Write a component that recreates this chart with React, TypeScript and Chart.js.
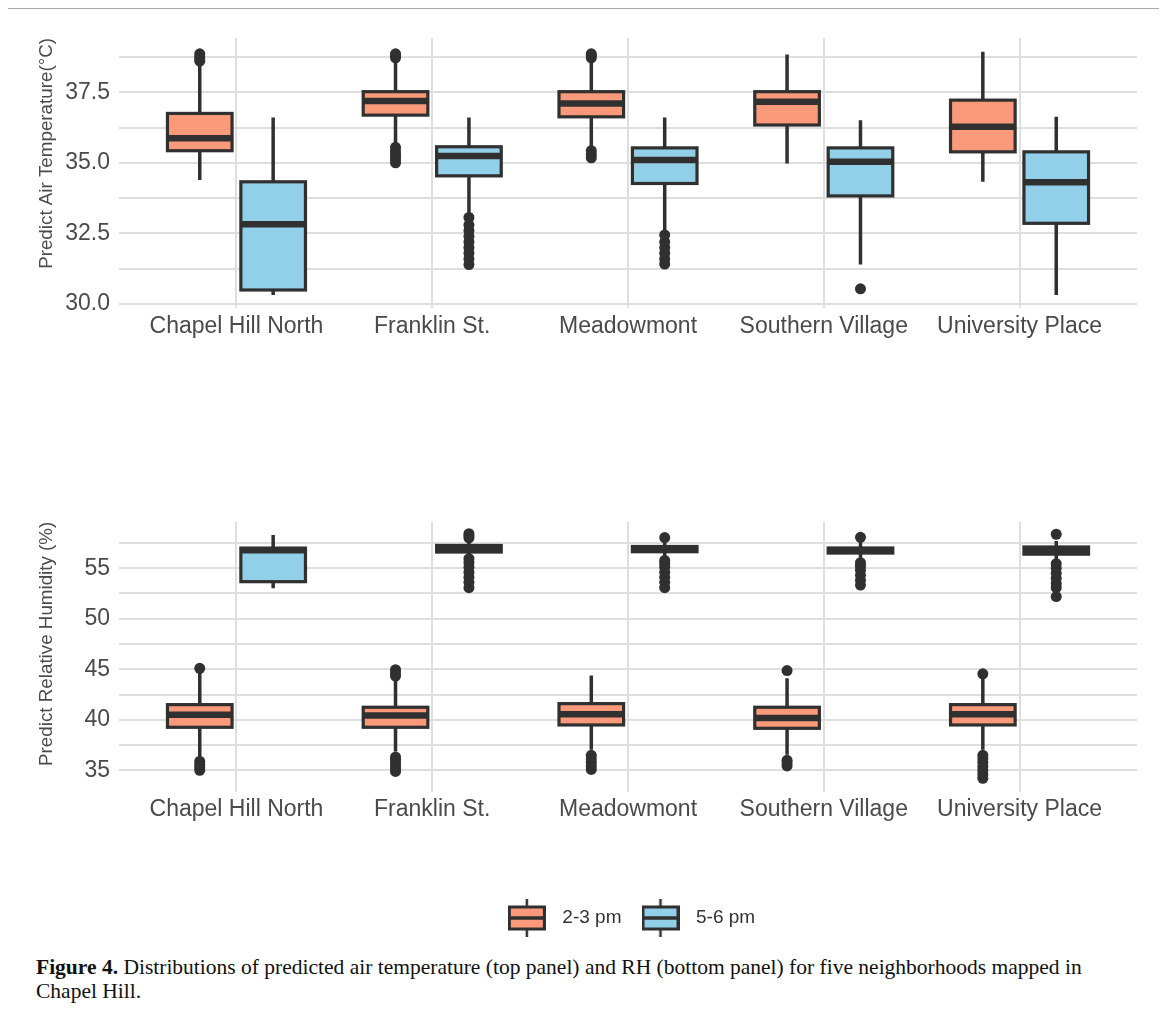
import React, { useEffect, useRef } from 'react';
import { Chart, registerables } from 'chart.js';

Chart.register(...registerables);

// ---------------- data ----------------
const categories = ['Chapel Hill North', 'Franklin St.', 'Meadowmont', 'Southern Village', 'University Place'];
const seriesNames = ['2-3 pm', '5-6 pm'];

// Top panel: predicted air temperature (°C)
const tempTicks = [30, 31.25, 32.5, 33.75, 35, 36.25, 37.5, 38.75];
const temp23Low = [34.39, 35.65, 35.58, 34.98, 34.33];
const temp23Q1 = [35.43, 36.69, 36.63, 36.34, 35.39];
const temp23Med = [35.87, 37.19, 37.1, 37.16, 36.28];
const temp23Q3 = [36.75, 37.52, 37.52, 37.52, 37.22];
const temp23High = [38.45, 38.55, 38.55, 38.84, 38.93];
const temp23Out = [
  [38.6, 38.68, 38.76, 38.86],
  [38.72, 38.8, 38.86, 35.0, 35.1, 35.2, 35.3, 35.42, 35.55],
  [38.72, 38.8, 38.86, 35.18, 35.3, 35.43],
  [],
  [],
];
const temp56Low = [30.32, 33.2, 32.6, 31.4, 30.32];
const temp56Q1 = [30.5, 34.54, 34.27, 33.83, 32.86];
const temp56Med = [32.83, 35.24, 35.1, 35.04, 34.31];
const temp56Q3 = [34.33, 35.57, 35.53, 35.53, 35.39];
const temp56High = [36.61, 36.61, 36.61, 36.51, 36.63];
const temp56Out = [
  [],
  [31.4, 31.6, 31.8, 32.0, 32.2, 32.4, 32.6, 32.8, 33.07],
  [31.42, 31.6, 31.8, 32.0, 32.2, 32.45],
  [30.54],
  [],
];

// Bottom panel: predicted relative humidity (%)
const rhTicks = [35, 37.5, 40, 42.5, 45, 47.5, 50, 52.5, 55, 57.5];
const rh23Low = [36.4, 36.88, 37.05, 36.55, 37.05];
const rh23Q1 = [39.27, 39.27, 39.5, 39.17, 39.5];
const rh23Med = [40.5, 40.43, 40.57, 40.18, 40.57];
const rh23Q3 = [41.51, 41.25, 41.61, 41.25, 41.51];
const rh23High = [44.7, 44.2, 44.39, 44.13, 44.1];
const rh23Out = [
  [45.1, 35.02, 35.3, 35.6, 35.9],
  [44.34, 44.65, 44.97, 34.9, 35.2, 35.5, 35.8, 36.1, 36.33],
  [35.1, 35.45, 35.8, 36.15, 36.5],
  [44.88, 35.45, 35.75, 36.0],
  [44.56, 34.23, 34.6, 35.0, 35.4, 35.8, 36.15, 36.5],
];
const rh56Low = [53.02, 56.2, 56.1, 55.95, 55.8];
const rh56Q1 = [53.67, 56.6, 56.63, 56.5, 56.39];
const rh56Med = [56.78, 56.95, 56.9, 56.75, 56.8];
const rh56Q3 = [56.99, 57.25, 57.15, 57.0, 57.1];
const rh56High = [58.29, 57.7, 57.6, 57.6, 57.7];
const rh56Out = [
  [],
  [58.0, 58.2, 58.41, 53.07, 53.6, 54.1, 54.6, 55.1, 55.55, 55.94],
  [58.03, 53.07, 53.6, 54.1, 54.6, 55.1, 55.45, 55.77],
  [58.06, 53.33, 53.8, 54.3, 54.8, 55.2, 55.55],
  [58.36, 52.2, 53.07, 53.5, 54.0, 54.5, 55.0, 55.45],
];

// ---------------- styles ----------------
const ORANGE = '#fa9a7a';
const BLUE = '#92d0ea';
const LINE = '#303030';
const GRID = '#dedede';
const TEXT = '#4a4a4a';
const SANS = "'Liberation Sans', Arial, Helvetica, sans-serif";
const SERIF = "'Liberation Serif', 'Times New Roman', serif";
const DODGE = 0.1875;
const BOX_HALF = 0.165;
const X_MIN = -0.6;
const X_MAX = 4.6;

type Group = { dodge: number; fill: string; low: number[]; q1: number[]; med: number[]; q3: number[]; high: number[] };

function makeBoxPlugin(groups: Group[]) {
  return {
    id: 'boxes',
    afterDatasetsDraw(chart: any) {
      const { ctx } = chart;
      const x = chart.scales.x;
      const y = chart.scales.y;
      ctx.save();
      ctx.strokeStyle = LINE;
      ctx.lineCap = 'butt';
      groups.forEach((g) => {
        categories.forEach((_, i) => {
          const cx = x.getPixelForValue(i + g.dodge);
          const left = x.getPixelForValue(i + g.dodge - BOX_HALF);
          const right = x.getPixelForValue(i + g.dodge + BOX_HALF);
          const yLo = y.getPixelForValue(g.low[i]);
          const yQ1 = y.getPixelForValue(g.q1[i]);
          const yMed = y.getPixelForValue(g.med[i]);
          const yQ3 = y.getPixelForValue(g.q3[i]);
          const yHi = y.getPixelForValue(g.high[i]);
          ctx.lineWidth = 3.5;
          ctx.beginPath();
          ctx.moveTo(cx, yQ3);
          ctx.lineTo(cx, yHi);
          ctx.moveTo(cx, yQ1);
          ctx.lineTo(cx, yLo);
          ctx.stroke();
          ctx.fillStyle = g.fill;
          ctx.fillRect(left, yQ3, right - left, yQ1 - yQ3);
          ctx.lineWidth = 3.2;
          ctx.strokeRect(left, yQ3, right - left, yQ1 - yQ3);
          ctx.lineWidth = 6.5;
          ctx.beginPath();
          ctx.moveTo(left, yMed);
          ctx.lineTo(right, yMed);
          ctx.stroke();
        });
      });
      ctx.restore();
    },
  };
}

function outlierDataset(label: string, lists: number[][], dodge: number) {
  return {
    label,
    data: lists.flatMap((vals, i) => vals.map((v) => ({ x: i + dodge, y: v }))),
    pointRadius: 5.5,
    pointHoverRadius: 5.5,
    pointBackgroundColor: LINE,
    pointBorderColor: LINE,
    pointBorderWidth: 0,
  };
}

function makeIcon(fill: string) {
  const c = document.createElement('canvas');
  c.width = 38;
  c.height = 38;
  const g = c.getContext('2d')!;
  g.strokeStyle = LINE;
  g.lineWidth = 2.5;
  g.beginPath();
  g.moveTo(19, 0);
  g.lineTo(19, 38);
  g.stroke();
  g.fillStyle = fill;
  g.fillRect(1.5, 8, 35, 22);
  g.lineWidth = 3;
  g.strokeRect(1.5, 8, 35, 22);
  g.lineWidth = 3.5;
  g.beginPath();
  g.moveTo(1.5, 19);
  g.lineTo(36.5, 19);
  g.stroke();
  return c;
}

function isMultiple(v: number, step: number) {
  return Math.abs(v / step - Math.round(v / step)) < 1e-6;
}

function xScale(labelPad: number, axisHeight: number) {
  return {
    type: 'linear',
    min: X_MIN,
    max: X_MAX,
    afterBuildTicks: (s: any) => {
      s.ticks = categories.map((_, i) => ({ value: i }));
    },
    afterFit: (s: any) => {
      s.height = axisHeight;
    },
    grid: { color: GRID, lineWidth: 2, drawTicks: false },
    border: { display: false },
    ticks: {
      callback: (v: number) => categories[v] ?? '',
      font: { family: SANS, size: 23 },
      color: TEXT,
      padding: labelPad,
      maxRotation: 0,
      minRotation: 0,
      autoSkip: false,
    },
  };
}

function yScale(min: number, max: number, ticks: number[], step: number, digits: number, title: string) {
  return {
    type: 'linear',
    min,
    max,
    afterBuildTicks: (s: any) => {
      s.ticks = ticks.map((v) => ({ value: v }));
    },
    afterFit: (s: any) => {
      s.width = 111;
    },
    grid: { color: GRID, lineWidth: 2, drawTicks: false },
    border: { display: false },
    ticks: {
      callback: (v: number) => (isMultiple(v, step) ? v.toFixed(digits) : ''),
      font: { family: SANS, size: 23 },
      color: TEXT,
      padding: 9,
      autoSkip: false,
    },
    title: {
      display: true,
      text: title,
      align: 'end',
      font: { family: SANS, size: 18.8 },
      color: TEXT,
      padding: { top: 27.4, bottom: 0 },
    },
  };
}

export default function App() {
  const topRef = useRef<HTMLCanvasElement>(null);
  const botRef = useRef<HTMLCanvasElement>(null);

  useEffect(() => {
    const tempGroups: Group[] = [
      { dodge: -DODGE, fill: ORANGE, low: temp23Low, q1: temp23Q1, med: temp23Med, q3: temp23Q3, high: temp23High },
      { dodge: DODGE, fill: BLUE, low: temp56Low, q1: temp56Q1, med: temp56Med, q3: temp56Q3, high: temp56High },
    ];
    const rhGroups: Group[] = [
      { dodge: -DODGE, fill: ORANGE, low: rh23Low, q1: rh23Q1, med: rh23Med, q3: rh23Q3, high: rh23High },
      { dodge: DODGE, fill: BLUE, low: rh56Low, q1: rh56Q1, med: rh56Med, q3: rh56Q3, high: rh56High },
    ];
    const icons = [makeIcon(ORANGE), makeIcon(BLUE)];

    const top = new Chart(topRef.current!, {
      type: 'scatter',
      data: {
        datasets: [
          outlierDataset(seriesNames[0], temp23Out, -DODGE),
          outlierDataset(seriesNames[1], temp56Out, DODGE),
        ],
      },
      options: {
        responsive: false,
        animation: false,
        events: [],
        layout: { padding: { left: 0, right: 21, top: 29, bottom: 1.5 } },
        plugins: { legend: { display: false }, tooltip: { enabled: false } },
        scales: {
          x: xScale(5.7, 40),
          y: yScale(29.88, 39.42, tempTicks, 2.5, 1, 'Predict Air Temperature(°C)'),
        },
      } as any,
      plugins: [makeBoxPlugin(tempGroups)],
    });

    const bottom = new Chart(botRef.current!, {
      type: 'scatter',
      data: {
        datasets: [
          outlierDataset(seriesNames[0], rh23Out, -DODGE),
          outlierDataset(seriesNames[1], rh56Out, DODGE),
        ],
      },
      options: {
        responsive: false,
        animation: false,
        events: [],
        layout: { padding: { left: 0, right: 21, top: 41.7, bottom: 2.5 } },
        plugins: {
          tooltip: { enabled: false },
          legend: {
            display: true,
            position: 'bottom',
            align: 'center',
            fullSize: false,
            labels: {
              usePointStyle: true,
              pointStyleWidth: 52,
              padding: 13,
              color: '#333333',
              font: { family: SANS, size: 19 },
              generateLabels: () =>
                seriesNames.map((name, i) => ({
                  text: name,
                  pointStyle: icons[i],
                  fillStyle: 'rgba(0,0,0,0)',
                  strokeStyle: 'rgba(0,0,0,0)',
                  lineWidth: 0,
                  hidden: false,
                  datasetIndex: i,
                  fontColor: '#333333',
                })),
            },
          },
        },
        scales: {
          x: xScale(4.5, 103.8),
          y: yScale(32.9, 59.6, rhTicks, 5, 0, 'Predict Relative Humidity (%)'),
        },
      } as any,
      plugins: [makeBoxPlugin(rhGroups)],
    });

    return () => {
      top.destroy();
      bottom.destroy();
    };
  }, []);

  return (
    <div
      style={{
        position: 'relative',
        marginLeft: -1,
        width: 1157,
        height: 1011,
        boxSizing: 'border-box',
        borderTop: '1px solid #a8a8a8',
        borderLeft: '1px solid #a8a8a8',
        borderRight: '1px solid #a8a8a8',
        background: '#ffffff',
      }}
    >
      <canvas ref={topRef} width={1150} height={340} style={{ position: 'absolute', left: 0, top: 0 }} />
      <canvas ref={botRef} width={1150} height={460} style={{ position: 'absolute', left: 0, top: 471 }} />
      <div
        style={{
          position: 'absolute',
          left: 28,
          top: 946,
          fontFamily: SERIF,
          fontSize: 21.5,
          lineHeight: '24px',
          color: '#111111',
          whiteSpace: 'nowrap',
        }}
      >
        <b>Figure 4.</b> Distributions of predicted air temperature (top panel) and RH (bottom panel) for five
        neighborhoods mapped in
        <br />
        Chapel Hill.
      </div>
    </div>
  );
}
